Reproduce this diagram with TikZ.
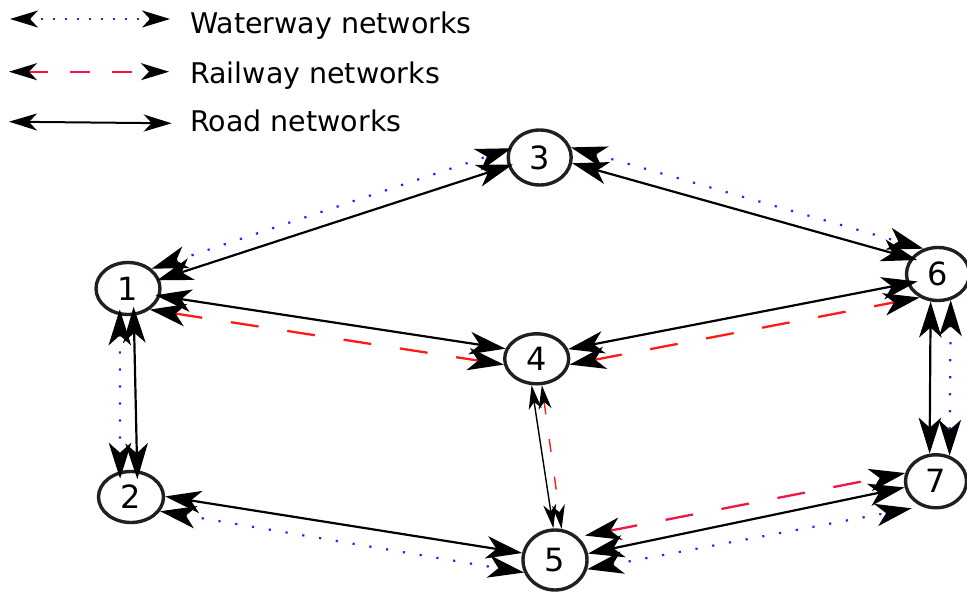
\documentclass[tikz,border=0pt]{standalone}
\usepackage{fontspec}
\setmainfont{DejaVu Sans}
\usetikzlibrary{arrows.meta,shapes.geometric}

\definecolor{rimcol}{HTML}{231F20}
\definecolor{waterblue}{HTML}{2323FF}
\definecolor{railred}{HTML}{FF1A1A}
\definecolor{railpink}{HTML}{EE1646}

\tikzset{
  city/.style={ellipse, draw=rimcol, line width=3.4pt, inner sep=0pt,
    minimum width=64pt, minimum height=52pt,
    font=\fontsize{32}{38}\selectfont},
  legtext/.style={anchor=base west, inner sep=0pt,
    font=\fontsize{28.5}{34}\selectfont},
  bigtips/.style={>={Stealth[length=36pt,width=22.5pt,inset=10pt,color=black]}, <->},
  smalltips/.style={>={Stealth[length=24pt,width=13pt,inset=7pt,color=black]}, <->},
  legtips/.style={>={Stealth[length=28pt,width=17pt,inset=8pt,color=black]}, <->},
  road/.style={bigtips, line width=2.2pt, black},
  water/.style={bigtips, line width=2.2pt, waterblue, dash pattern=on 2.2pt off 14.8pt},
  rail/.style={bigtips, line width=2.3pt, railred, dash pattern=on 28pt off 29pt},
  railb/.style={bigtips, line width=2.3pt, railpink, dash pattern=on 28pt off 29pt},
  thinroad/.style={smalltips, line width=1.4pt, black},
  thinrail/.style={smalltips, line width=1.4pt, railred, dash pattern=on 13pt off 25pt},
}

\begin{document}
\begin{tikzpicture}[x=1pt,y=-1pt]
\useasboundingbox (0,0) rectangle (967,594);

% legend
\coordinate (wa) at (10,19);   \coordinate (wb) at (170,19);
\coordinate (ra) at (9,71.7);  \coordinate (rb) at (169,71.7);
\coordinate (da) at (9,121.7); \coordinate (db) at (171.7,123.3);
\draw[legtips, line width=2pt, waterblue, dash pattern=on 2pt off 10pt] (wa) -- (wb);
\draw[legtips, line width=2pt, railpink, dash pattern=on 20pt off 22pt] (ra) -- (rb);
\draw[legtips, line width=2pt, black] (da) -- (db);
\node[legtext] (tw) at (190,33.5) {Waterway networks};
\node[legtext] (tr) at (190,83.3) {Railway networks};
\node[legtext] (td) at (190,131.7) {Road networks};

% cities
\node[city] (n1) at (128,288.5) {1};
\node[city, minimum width=65pt, minimum height=51pt] (n2) at (131,497) {2};
\node[city, minimum width=63pt, minimum height=55pt] (n3) at (539.7,157.5) {3};
\node[city, minimum height=50pt] (n4) at (536.7,358.8) {4};
\node[city, minimum height=60pt] (n5) at (555,560) {5};
\node[city, minimum width=63pt, minimum height=53pt] (n6) at (938,274) {6};
\node[city, minimum width=61pt, minimum height=53pt] (n7) at (936,481.3) {7};

% 1 -- 3
\draw[water, shorten >=-4pt] (n1.40.4) -- (n3.166.3);
\draw[road, shorten <=-3pt, shorten >=-5pt] (n1.16.5) -- (n3.195.9);
% 3 -- 6
\draw[water] (n3.18.6) -- (n6.120.2);
\draw[road, shorten >=-7pt] (n3.-10.8) -- (n6.150);
% 1 -- 4
\draw[road, shorten <=-5pt] (n1.-13.5) -- (n4.162.4);
\draw[rail] (n1.-44.3) -- (n4.190.5);
% 4 -- 6
\draw[road, shorten >=-11pt] (n4.17.9) -- (n6.197);
\draw[rail] (n4.-10.5) -- (n6.232.3);
% 1 -- 2
\draw[water, shorten <=-6pt, shorten >=-7.5pt] (n1.-107.7) -- (n2.113.3);
\draw[road, shorten <=-9pt, shorten >=-9pt] (n1.-78.9) -- (n2.77.9);
% 6 -- 7
\draw[road] (n6.-105) -- (n7.103.7);
\draw[water] (n6.-64.1) -- (n7.62.9);
% 2 -- 5
\draw[road] (n2.1) -- (n5.168);
\draw[water] (n2.-26.9) -- (n5.202.8);
% 4 -- 5
\draw[thinroad] (n4.-101.2) -- (n5.93);
\draw[thinrail] (n4.-79.2) -- (n5.78.6);
% 5 -- 7
\draw[railb, shorten <=7pt] (n5.45) -- (n7.165.5);
\draw[road] (n5.11.5) -- (n7.191);
\draw[water, shorten >=10pt] (n5.-16.4) -- (n7.240.5);
\end{tikzpicture}
\end{document}
